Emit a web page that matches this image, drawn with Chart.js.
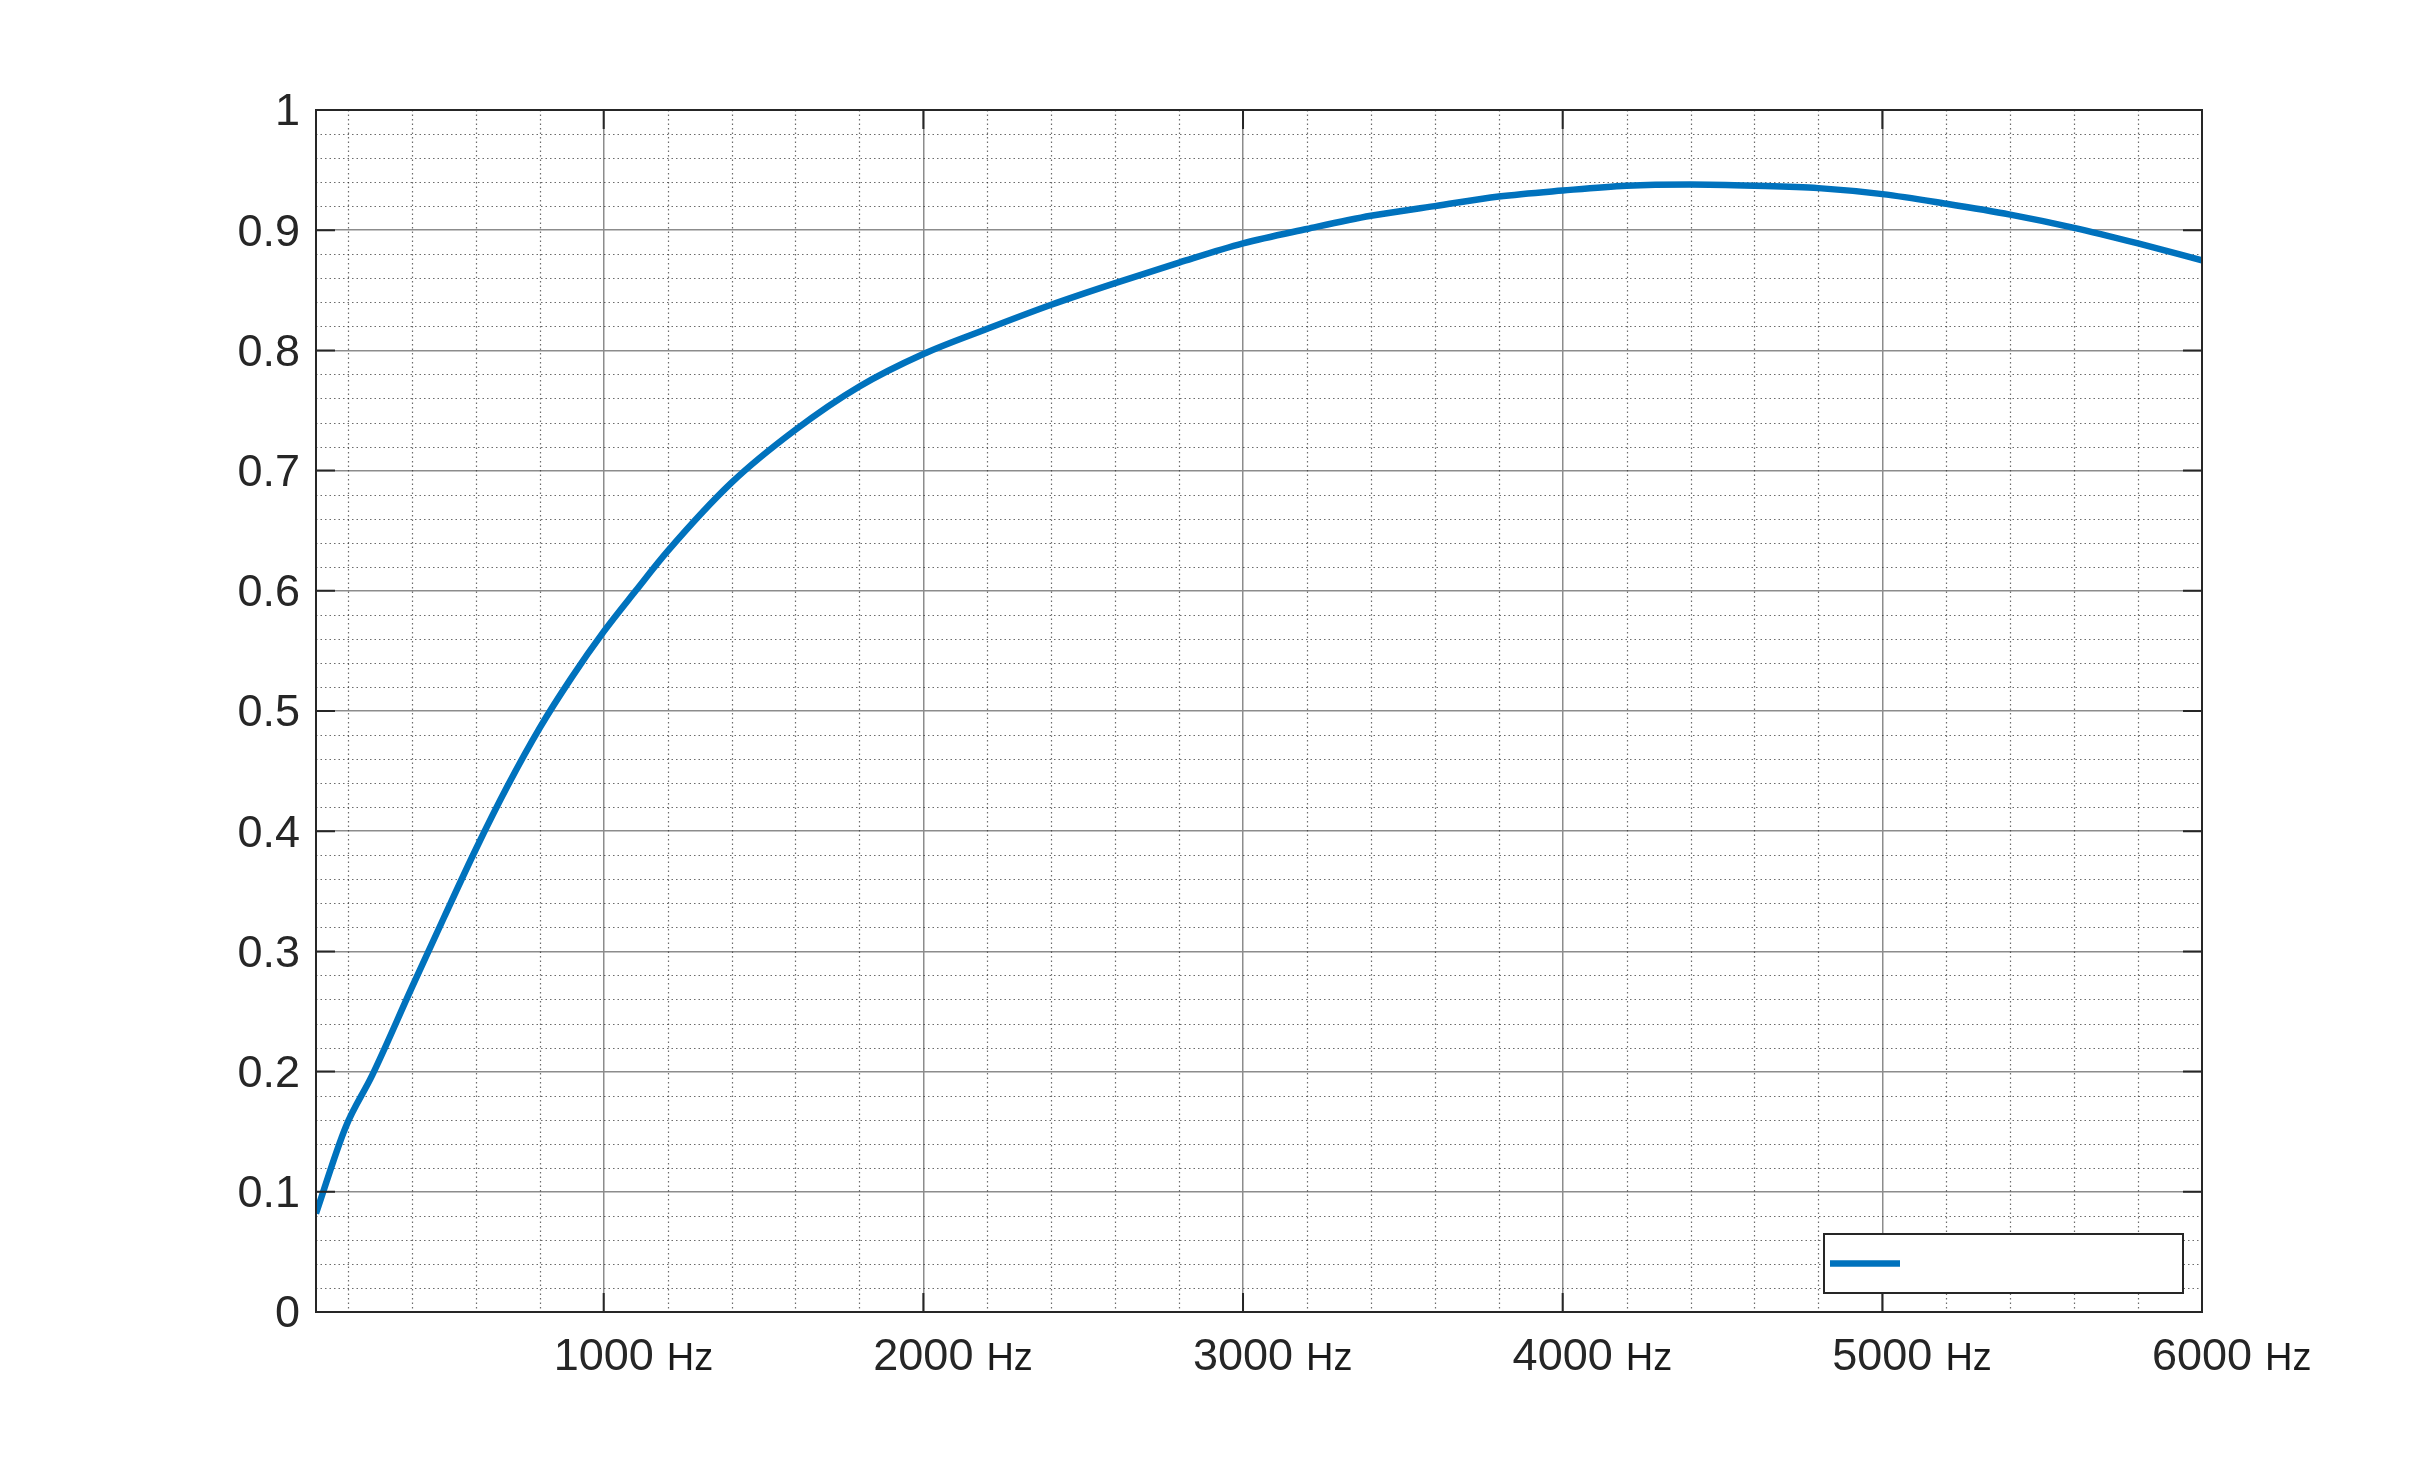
<!DOCTYPE html>
<html>
<head>
<meta charset="utf-8">
<script src="https://cdn.jsdelivr.net/npm/chart.js@4.4.1/dist/chart.umd.min.js"></script>
<style>
html,body{margin:0;padding:0;background:#fff}
canvas{display:block}
</style>
</head>
<body>
<canvas id="grafico" width="2434" height="1475"></canvas>
<script>

// curva (Hz / coeficiente)
let frequencias=[100,193,276,400,500,600,700,800,900,1000,1100,1200,1400,1600,1800,2000,2200,2400,2600,2800,3000,3200,3400,3600,3800,4000,4200,4400,4600,4800,5000,5200,5400,5600,5800,6000]
let valores=[0.082,0.154,0.197,0.27,0.328,0.385,0.438,0.486,0.528,0.566,0.6,0.633,0.69,0.734,0.77,0.797,0.818,0.838,0.856,0.873,0.889,0.901,0.912,0.92,0.928,0.933,0.937,0.938,0.937,0.935,0.93,0.922,0.913,0.902,0.889,0.875]

let ticksX=[1000,2000,3000,4000,5000,6000]
let ticksY=[0,0.1,0.2,0.3,0.4,0.5,0.6,0.7,0.8,0.9,1]
let unidade='Hz'
let xMin=100
let xMax=6000

let minorX=[]
for(let f=200;f<xMax;f+=200)if(f%1000)minorX.push(f)
let minorY=[]
for(let i=1;i<50;i++)if(i%5)minorY.push(i/50)

let fonte='"Liberation Sans", Arial, sans-serif'
let corTexto='#262626'
let corLinha='#0072BD'
let tamTick=45
let padX=19

let pluginGrade={
id:'grade',
beforeDatasetsDraw(chart){
let{ctx,chartArea:a,scales:{x,y}}=chart
ctx.save()
ctx.strokeStyle='rgba(45,45,45,.7)'
ctx.lineWidth=1.2
ctx.setLineDash([1.5,3])
minorX.forEach(v=>{
let p=Math.round(x.getPixelForValue(v))+.5
ctx.beginPath();ctx.moveTo(p,a.top);ctx.lineTo(p,a.bottom);ctx.stroke()
})
minorY.forEach(v=>{
let p=Math.round(y.getPixelForValue(v))+.5
ctx.beginPath();ctx.moveTo(a.left,p);ctx.lineTo(a.right,p);ctx.stroke()
})
ctx.restore()
},
afterDatasetsDraw(chart){
let{ctx,chartArea:a,scales:{x,y}}=chart
let t=19
ctx.save()
ctx.strokeStyle=corTexto
ctx.lineWidth=2
ctx.beginPath()
ticksX.forEach(v=>{
let p=x.getPixelForValue(v)
ctx.moveTo(p,a.bottom);ctx.lineTo(p,a.bottom-t)
ctx.moveTo(p,a.top);ctx.lineTo(p,a.top+t)
})
ticksY.forEach(v=>{
let p=y.getPixelForValue(v)
ctx.moveTo(a.left,p);ctx.lineTo(a.left+t,p)
ctx.moveTo(a.right,p);ctx.lineTo(a.right-t,p)
})
ctx.stroke()
ctx.strokeRect(a.left,a.top,a.right-a.left,a.bottom-a.top)
ctx.restore()
},
afterDraw(chart){
let{ctx,chartArea:a,scales:{x}}=chart

// legenda vazia (canto inferior direito)
let lw=359,lh=59,m=19
let lx=a.right-m-lw,ly=a.bottom-m-lh
ctx.save()
ctx.fillStyle='#fff'
ctx.fillRect(lx,ly,lw,lh)
ctx.strokeStyle=corTexto
ctx.lineWidth=2
ctx.strokeRect(lx,ly,lw,lh)
ctx.strokeStyle=corLinha
ctx.lineWidth=6.5
ctx.beginPath()
ctx.moveTo(lx+6,ly+lh/2)
ctx.lineTo(lx+76,ly+lh/2)
ctx.stroke()

// unidade ao lado de cada rótulo do eixo x
ctx.font=tamTick+'px '+fonte
ctx.textBaseline='middle'
let meio=x.top+padX+tamTick*1.2/2
let base=meio+ctx.measureText('0').actualBoundingBoxDescent
ticksX.forEach(v=>{
ctx.font=tamTick+'px '+fonte
let w=ctx.measureText(String(v)).width
let p=x.getPixelForValue(v)
ctx.font='38px '+fonte
ctx.fillStyle='#1a1a1a'
ctx.textBaseline='alphabetic'
ctx.textAlign='left'
ctx.fillText(unidade,p+w/2+13,base)
ctx.textBaseline='middle'
})
ctx.restore()
}
}

new Chart(document.getElementById('grafico'),{
type:'line',
data:{
datasets:[{
label:'',
data:frequencias.map((f,i)=>({x:f,y:valores[i]})),
borderColor:corLinha,
borderWidth:6.5,
pointRadius:0,
cubicInterpolationMode:'monotone',
fill:false
}]
},
options:{
responsive:false,
animation:false,
devicePixelRatio:1,
layout:{padding:{left:0,top:110,right:232,bottom:0}},
plugins:{legend:{display:false},tooltip:{enabled:false}},
scales:{
x:{
type:'linear',
min:xMin,
max:xMax,
afterBuildTicks(s){s.ticks=ticksX.map(v=>({value:v}))},
afterFit(s){s.height=163},
ticks:{
autoSkip:false,
maxRotation:0,
padding:padX,
color:corTexto,
font:{family:fonte,size:tamTick},
callback:v=>String(v)
},
grid:{color:'#8c8c8c',lineWidth:1.5,drawTicks:false},
border:{display:false}
},
y:{
min:0,
max:1,
afterBuildTicks(s){s.ticks=ticksY.map(v=>({value:v}))},
afterFit(s){s.width=316},
ticks:{
padding:16,
labelOffset:3,
color:corTexto,
font:{family:fonte,size:tamTick},
callback:v=>String(+v.toFixed(1))
},
grid:{color:'#8c8c8c',lineWidth:1.5,drawTicks:false},
border:{display:false}
}
}
},
plugins:[pluginGrade]
})

</script>
</body>
</html>
